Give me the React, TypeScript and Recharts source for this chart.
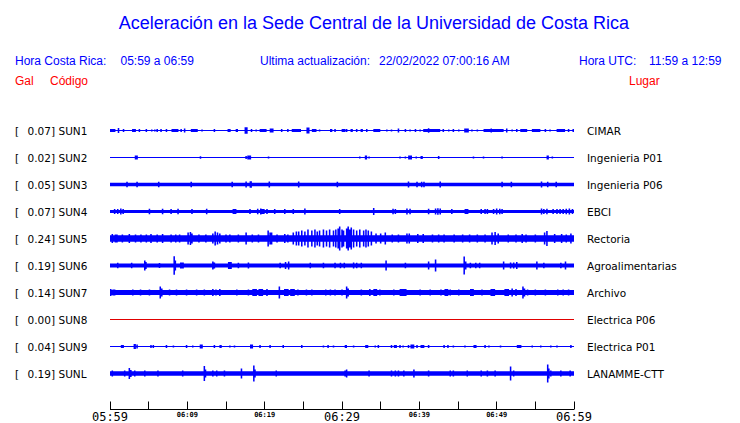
import { ComposedChart, Area, XAxis, YAxis } from 'recharts';

const codes = ['SUN1', 'SUN2', 'SUN3', 'SUN4', 'SUN5', 'SUN6', 'SUN7', 'SUN8', 'SUN9', 'SUNL'];
const peaks = ['0.07', '0.02', '0.05', '0.07', '0.24', '0.19', '0.14', '0.00', '0.04', '0.19'];
const places = [
  'CIMAR', 'Ingenieria P01', 'Ingenieria P06', 'EBCI', 'Rectoria',
  'Agroalimentarias', 'Archivo', 'Electrica P06', 'Electrica P01', 'LANAMME-CTT',
];
// half width of the quiet trace (same unit as the events' amplitude)
const baseAmp = [0.5, 0.5, 1.8, 1.6, 3.3, 2, 2.6, 0.5, 0.5, 2.3];

// events: [minute after 05:59, amplitude, duration in minutes (optional)]
const sun1 = [
  [0.3, 1.5, 0.8], [1.1, 2.5], [1.75, 1.5], [3.1, 1.5, 0.5], [3.8, 1.5], [4.7, 1.5], [5.4, 1], [5.8, 1],
  [6.1, 1.5], [6.6, 1.5], [7.3, 1.5], [8.4, 1.5, 0.9], [9.2, 1.5], [9.65, 2], [10.9, 1.5, 0.9], [11.9, 1],
  [13.5, 1.5], [15.4, 1.5, 0.4], [16.4, 1.5, 0.3], [17.6, 3.2, 0.4], [18.3, 1.5], [18.9, 1], [19.8, 1.5, 0.9],
  [20.9, 2, 0.5], [22.2, 1.5], [23, 1.5], [24.1, 1.5, 1.2], [25.6, 3, 0.4], [26.4, 1.5, 0.6], [27.1, 1],
  [28.6, 1.5, 0.3], [29.1, 1.5], [30.2, 1.5, 0.5], [30.6, 1.5], [31.25, 1.5, 0.3], [31.9, 1.5], [32.55, 1.5, 0.3],
  [33.2, 1.5], [34.5, 1.5, 0.9], [35.8, 1], [36.4, 1], [37.3, 2], [38.2, 1.5], [38.8, 1], [39.5, 1.5],
  [40.1, 1], [41.6, 1.5, 2.2], [41.2, 2.2], [43.1, 1.5], [43.8, 1], [44.4, 1.5], [45.1, 1], [46.1, 2, 0.6],
  [46.8, 1], [47.5, 1], [49.6, 1.5, 2.6], [49.3, 2], [51.3, 2], [52, 1], [52.6, 1.5], [53.5, 1.5, 0.9],
  [55.1, 1.5, 1.1], [56.3, 1.5], [56.9, 1], [58.3, 1.5, 1.1], [59.3, 1.5], [59.9, 1.5],
];
const sun2 = [
  [3.4, 2, 0.4], [11.7, 1.2], [17.6, 1.5], [18, 2, 0.5], [20.5, 1], [32.3, 1], [33.1, 2, 0.3], [33.5, 1],
  [37.5, 1], [38.2, 1], [38.8, 2, 0.5], [39.6, 1], [40.3, 1.5, 0.3], [42.5, 1.5], [47, 1], [48.3, 1],
  [50.7, 1], [56.6, 2, 0.3], [57.2, 1],
];
const sun3 = [
  [2.2, 2.8], [3.5, 2.8], [6.3, 2.8], [10.5, 2.8], [15.8, 2.8], [17.6, 3], [18.2, 3.2, 0.3], [20.6, 3],
  [24.4, 3], [29.4, 2.8], [38.6, 3], [39.7, 2.8], [40.3, 2.8], [40.6, 2.8], [42.7, 3], [50.7, 2.8],
  [51.9, 2.8], [55.8, 3], [56.6, 2.8], [57.7, 2.8],
];
const sun4 = [
  [0.6, 2.5], [1.0, 2.5], [1.4, 3], [1.7, 2.5], [5.1, 2.8], [6.8, 2.8], [7.9, 2.5], [8.8, 2.8], [10.6, 2.5],
  [12.5, 2.8], [16.1, 2.5, 0.5], [18.1, 2.5], [19.1, 2.8], [19.5, 3], [19.8, 2.5, 0.4], [20.3, 2.5],
  [21.3, 2.5], [22.6, 2.5], [23.7, 2.5], [25.2, 3], [29.7, 2.5], [34.1, 3.5], [36.6, 2.8], [36.9, 2.5],
  [38.4, 3], [38.8, 2.8], [41.2, 2.8], [42.1, 3], [42.4, 3.3], [42.7, 3], [44.2, 2.5], [46.1, 2.5, 0.5],
  [48, 2.5], [48.5, 2.5], [48.8, 2.5], [49.6, 2.5], [50, 3], [50.4, 2.8], [50.7, 2.5], [55.8, 3], [56.1, 2.5],
  [56.5, 2.8], [57.3, 2.5], [57.8, 2.5], [58.2, 2.5], [58.6, 2.5], [59, 2.8], [59.4, 3], [59.8, 2.5],
];
const sun5 = [
  [0.3, 4.5], [0.8, 4, 0.4], [1.6, 4], [2.5, 4.5], [3.3, 4], [4, 4], [4.7, 4], [5.3, 4.5], [6.1, 4],
  [6.8, 4.5], [7.9, 4], [8.5, 4], [9, 4], [10.1, 6], [10.4, 6.5], [10.6, 5], [11.5, 4], [12.4, 4],
  [13.3, 5], [13.6, 7], [13.9, 6], [14.2, 5], [15, 4], [15.5, 4], [16.6, 4], [17.6, 6], [18.4, 4],
  [19.2, 4], [20.45, 8], [20.7, 6], [20.9, 6], [21.6, 4], [22.6, 4.5], [23, 4], [23.7, 6], [24.1, 7],
  [24.4, 7], [24.8, 8], [25.2, 7], [25.6, 9], [26.1, 8], [26.5, 9], [26.8, 7], [27.1, 8], [27.6, 9],
  [28, 8], [28.4, 9], [28.9, 8], [29.2, 9], [29.5, 10], [29.7, 12], [30, 9], [30.2, 8], [30.6, 10], [30.8, 12],
  [31, 9], [31.2, 11], [31.5, 9], [31.9, 8], [32.3, 9], [32.8, 8], [33.1, 9], [33.4, 8], [33.8, 7],
  [34.4, 5], [35, 5], [35.6, 6], [36.5, 4], [37.3, 4], [38.4, 5], [38.7, 5], [39.8, 4.5], [40.5, 4.5],
  [41.7, 4], [42.5, 4], [43.2, 4], [44.5, 4], [45.6, 4], [46.5, 4], [47.5, 4], [48.5, 4], [49.4, 6],
  [49.8, 6.5], [50.2, 5], [51.5, 4], [52.5, 4], [53.3, 4.5], [53.8, 4], [55, 4], [56.2, 6], [56.5, 7.5],
  [57.5, 4.5], [58.4, 4.5], [59, 4], [59.6, 5],
];
const sun6 = [
  [1, 2.8], [2.8, 2.8], [4.5, 5], [4.6, 3.5, 0.3], [6.4, 2.5], [8.3, 9.3], [8.45, 5], [9.3, 3, 0.5], [13.3, 4],
  [13.5, 3], [15.5, 3.5, 0.5], [16.6, 2.8], [17.9, 3], [22, 2.8], [22.7, 3.5], [23.1, 4], [25.9, 2.8],
  [27.6, 2.8], [29.1, 2.8], [29.8, 2.8], [30.3, 2.8], [31.5, 3], [31.9, 2.8], [32.5, 2.8], [35.7, 5],
  [38.2, 2.8], [41.2, 4], [42.1, 6], [45.8, 9], [45.95, 4, 0.3], [46.6, 2.8], [47.3, 2.8], [47.8, 2.8],
  [50.9, 4], [51.8, 3], [52.2, 3], [52.6, 3.5], [55.2, 4], [56.1, 2.8], [58.3, 2.8], [58.9, 4],
];
const sun7 = [
  [0.1, 3.5], [0.5, 3, 0.4], [2.95, 3], [3.95, 3], [5.1, 3], [6.5, 6], [6.7, 4], [7.7, 3], [8.6, 3], [9.9, 3],
  [11.2, 3], [12.2, 3], [13.3, 3.5], [13.7, 3], [14.2, 3.5], [16.4, 3], [17.9, 3], [18.7, 3.5, 0.6],
  [19.5, 3.5, 0.6], [20.3, 3.5], [21.9, 6], [22.8, 3.5, 0.6], [23.6, 3.5, 0.6], [24.3, 3], [25.4, 3],
  [26.1, 3], [27.9, 3], [28.5, 3], [29.1, 3], [30, 3], [30.6, 6], [30.8, 4], [32.5, 3], [33.6, 3.5],
  [34.3, 3.5, 0.5], [34.9, 3], [36.7, 3], [37.9, 3.5, 0.9], [40.1, 3], [41.4, 3], [42.8, 3], [43.5, 3.5, 0.5],
  [44, 3], [45.1, 3], [46.8, 3.5, 0.5], [48.1, 3], [49.5, 3.5, 0.6], [51.3, 3.5, 0.6], [52, 4], [52.5, 3.5],
  [53.4, 6], [53.6, 4], [54, 3], [55, 3], [56.3, 3], [57.9, 3], [58.6, 3], [59.3, 3],
];
const sun8: number[][] = [];
const sun9 = [
  [1.6, 1.5, 0.4], [3.2, 2.5, 0.3], [3.5, 2], [5.3, 1.5], [5.6, 1.5], [7.3, 1.5], [8.2, 1], [9.9, 1.5],
  [10.7, 1], [11.8, 2, 0.4], [13.5, 1.5], [14.3, 1.5, 0.3], [15.5, 1], [16.1, 1], [18.3, 2, 0.4], [19.4, 1.5],
  [20.7, 1.5], [22.4, 1.5], [24.8, 1.5], [27.6, 1], [28.2, 1.5], [28.9, 1], [30.5, 1.5, 0.3], [31.5, 1],
  [33.2, 1.5, 0.4], [34.3, 1], [34.7, 1.5], [36.4, 1.5], [36.9, 1.5, 0.4], [37.5, 1.5], [37.9, 1], [38.6, 1.5],
  [39.1, 2, 0.5], [39.7, 1.5], [40.4, 1.5, 0.5], [41.2, 1.5], [43.2, 1.5], [43.7, 1.5], [44.4, 1], [45.9, 1],
  [47.2, 1.5, 0.4], [48.5, 1.5], [49, 1], [50.5, 1], [52.9, 1.5, 0.6], [54.6, 1], [55.7, 1], [57, 1],
  [57.8, 1], [59.6, 1.5],
];
const sunL = [
  [0.3, 3], [1.9, 3], [2.5, 5.5], [2.7, 3.5], [3.2, 3], [4.5, 3], [6.2, 3], [9.4, 3], [12.2, 7.5], [12.35, 4],
  [13.3, 3], [13.8, 3], [14.8, 3], [17, 5], [18.6, 8], [18.75, 4], [21.5, 3], [30.4, 3], [30.6, 4], [33.5, 3],
  [36.4, 3], [36.9, 3], [37.3, 3], [38, 3], [39.3, 4], [41.2, 3], [44, 3], [44.4, 3], [46.2, 3], [48, 3],
  [48.8, 3], [49.8, 3], [51.8, 7], [52.2, 3], [56.6, 9], [56.75, 5], [57, 3], [58.3, 3], [59.5, 3],
];
const events = [sun1, sun2, sun3, sun4, sun5, sun6, sun7, sun8, sun9, sunL];

const tickTimes = [0, 5, 10, 15, 20, 25, 30, 35, 40, 45, 50, 55, 60];
const tickLabels = ['05:59', '', '06:09', '', '06:19', '', '06:29', '', '06:39', '', '06:49', '', '06:59'];
const majorLabels = ['05:59', '06:29', '06:59'];

const title = 'Aceleración en la Sede Central de la Universidad de Costa Rica';
const localRange = '05:59 a 06:59';
const utcRange = '11:59 a 12:59';
const updated = '22/02/2022 07:00:16 AM';

const BLUE = '#0000ff';
const RED = '#ff0000';
const PER_ROW = 27; // amplitude units per row
const SPIKE = 0.2;

const rowValue = (i: number) => codes.length - 1 - i;
const Y_MAX = codes.length - 0.5;
const Y_MIN = Y_MAX - 292.5 / PER_ROW;

const intervals = events.map(list =>
  list.map(([m, a, d = SPIKE]) => [
    Math.max(0, Math.round((m - d / 2) * 1000) / 1000),
    Math.min(60, Math.round((m + d / 2) * 1000) / 1000),
    a,
  ]),
);
const times = Array.from(
  new Set([0, 60, ...intervals.flatMap(l => l.flatMap(([s, e]) => [s, e]))]),
).sort((a, b) => a - b);

const data = times.map(t => {
  const row: any = { t };
  codes.forEach((c, i) => {
    let a = baseAmp[i];
    for (const [s, e, amp] of intervals[i]) if (t >= s && t < e && amp > a) a = amp;
    const v = rowValue(i);
    row[c] = [v - a / PER_ROW, v + a / PER_ROW];
  });
  return row;
});

const TimeTick = (props: any) => {
  const { x, y, payload } = props;
  const label = tickLabels[tickTimes.indexOf(payload.value)];
  const major = majorLabels.includes(label);
  const lx = Math.floor(x) + 0.5;
  return (
    <g>
      <line x1={lx} x2={lx} y1={y - 8} y2={y} stroke="#000" />
      {label && (
        <text
          x={x}
          y={major ? y + 11 : y + 7.5}
          textAnchor="middle"
          fontFamily="DejaVu Sans Mono"
          fontSize={major ? 12 : 7}
          fontWeight={major ? 'normal' : 'bold'}
          fill="#000"
        >
          {label}
        </text>
      )}
    </g>
  );
};

const CodeTick = (props: any) => {
  const { x, y, payload } = props;
  const i = rowValue(payload.value);
  return (
    <g fontFamily="DejaVu Sans" fontSize={10.5} fill="#000">
      <text x={x - 95} y={y + 4}>[</text>
      <text x={x - 55} y={y + 4} textAnchor="end">{peaks[i]}]</text>
      <text x={x - 51.5} y={y + 4}>{codes[i]}</text>
    </g>
  );
};

const PlaceTick = (props: any) => {
  const { x, y, payload } = props;
  const i = rowValue(payload.value);
  return (
    <text x={x + 13} y={y + 4} fontFamily="DejaVu Sans" fontSize={10.5} fill="#000">
      {places[i]}
    </text>
  );
};

const rowTicks = codes.map((_, i) => rowValue(i));

export default function App() {
  return (
    <div style={{ position: 'absolute', left: 0, top: 0, width: 740, height: 423, background: '#fff' }}>
      <ComposedChart width={740} height={423} data={data} margin={{ top: 117, right: 0, bottom: 0, left: 0 }}>
        <XAxis
          dataKey="t"
          type="number"
          domain={[0, 60]}
          allowDataOverflow
          ticks={tickTimes}
          interval={0}
          height={13.5}
          tickSize={0}
          tickMargin={0}
          tickLine={false}
          axisLine={{ stroke: '#000' }}
          tick={<TimeTick />}
        />
        <YAxis
          yAxisId="l"
          type="number"
          domain={[Y_MIN, Y_MAX]}
          allowDataOverflow
          ticks={rowTicks}
          interval={0}
          width={110}
          tickSize={0}
          tickMargin={0}
          axisLine={false}
          tickLine={false}
          tick={<CodeTick />}
        />
        <YAxis
          yAxisId="r"
          orientation="right"
          type="number"
          domain={[Y_MIN, Y_MAX]}
          allowDataOverflow
          ticks={rowTicks}
          interval={0}
          width={166}
          tickSize={0}
          tickMargin={0}
          axisLine={false}
          tickLine={false}
          tick={<PlaceTick />}
        />
        {codes.map((c, i) => (
          <Area
            key={c}
            yAxisId={i === 7 ? 'r' : 'l'}
            type="stepAfter"
            dataKey={c}
            stroke="none"
            fill={c === 'SUN8' ? '#e00000' : BLUE}
            fillOpacity={1}
            dot={false}
            activeDot={false}
            isAnimationActive={false}
          />
        ))}
      </ComposedChart>
      <svg
        width={740}
        height={110}
        style={{ position: 'absolute', left: 0, top: 0, pointerEvents: 'none' }}
        fontFamily="Liberation Sans"
      >
        <text x={374} y={29} textAnchor="middle" fontSize={18} fill={BLUE}>{title}</text>
        <g fontSize={12} fill={BLUE}>
          <text x={15} y={65}>Hora Costa Rica:</text>
          <text x={120.5} y={65}>{localRange}</text>
          <text x={260} y={65}>Ultima actualización:</text>
          <text x={379} y={65}>{updated}</text>
          <text x={579} y={65}>Hora UTC:</text>
          <text x={649} y={65}>{utcRange}</text>
        </g>
        <g fontSize={12} fill={RED}>
          <text x={15} y={85}>Gal</text>
          <text x={50} y={85}>Código</text>
          <text x={629} y={85}>Lugar</text>
        </g>
      </svg>
    </div>
  );
}
